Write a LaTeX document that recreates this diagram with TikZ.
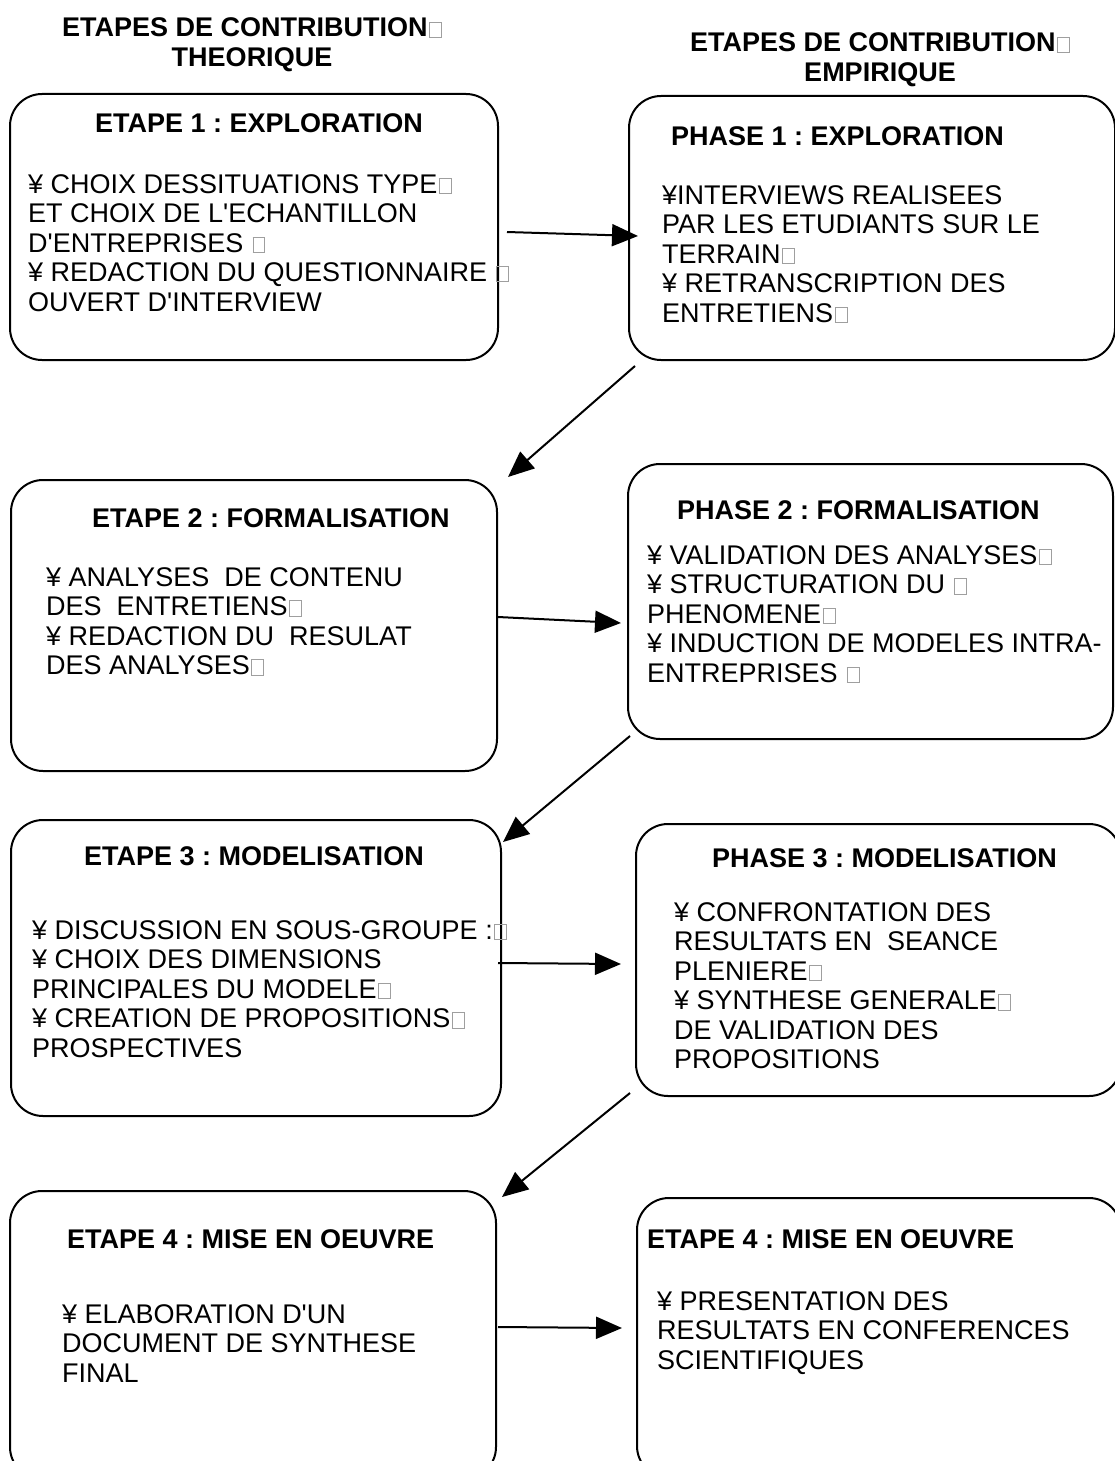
\documentclass[tikz,border=0pt]{standalone}
\usepackage{fontspec}
\setmainfont{Liberation Sans}[Ligatures=TeXOff]
\usetikzlibrary{arrows.meta}
\frenchspacing
\newcommand\nog{\hspace{0.06em}\textcolor{gray!75}{\setlength\fboxrule{1pt}\setlength\fboxsep{0pt}\fbox{\rule{0pt}{0.52em}\hspace{0.4em}}}}
\newcommand\lns[1]{\begin{tabular}[t]{@{}l@{}}#1\end{tabular}}
\newcommand\clns[1]{\begin{tabular}[t]{@{}c@{}}#1\end{tabular}}
\begin{document}
\begin{tikzpicture}[x=1pt,y=-1pt,
  stepbox/.style={draw, line width=2pt, rounded corners=32pt, inner sep=0pt, anchor=north west},
  ttl/.style={font=\bfseries\fontsize{27}{30}\selectfont, anchor=base west, inner sep=0pt},
  bodytxt/.style={font=\fontsize{27}{29.5}\selectfont, anchor=base west, inner sep=0pt},
  hdr/.style={font=\bfseries\fontsize{27}{30}\selectfont, anchor=base, inner sep=0pt},
  arr/.style={line width=2pt, -{Triangle[length=26pt,width=22pt]}}]
\useasboundingbox (0,0) rectangle (1115,1461);
\clip (0,0) rectangle (1115,1461);
\fill[white] (0,0) rectangle (1115,1461);

% headers
\node[hdr] (h1) at (252,37) {\clns{ETAPES DE CONTRIBUTION\nog\\THEORIQUE\hspace{18pt}}};
\node[hdr] (h2) at (880,52) {\clns{ETAPES DE CONTRIBUTION\nog\\EMPIRIQUE\hspace{16pt}}};

% boxes
\node[stepbox, minimum width=488pt, minimum height=266pt] (b1) at (9,93) {};
\node[stepbox, minimum width=486pt, minimum height=264pt] (b2) at (628,95) {};
\node[stepbox, minimum width=486pt, minimum height=291pt] (b3) at (10,479) {};
\node[stepbox, minimum width=485pt, minimum height=275pt] (b4) at (627,463) {};
\node[stepbox, minimum width=490pt, minimum height=296pt] (b5) at (10,819) {};
\node[stepbox, minimum width=485pt, minimum height=272pt] (b6) at (635,823) {};
\node[stepbox, minimum width=486pt, minimum height=288pt] (b7) at (9,1190) {};
\node[stepbox, minimum width=484pt, minimum height=280pt] (b8) at (636,1197) {};

% box 1
\node[ttl] (t1) at (95,132) {ETAPE 1 : EXPLORATION};
\node[bodytxt] (c1) at (28,193) {\lns{\textyen{} CHOIX DESSITUATIONS TYPE\nog\\ET CHOIX DE L'ECHANTILLON\\D'ENTREPRISES \nog\\\textyen{} REDACTION DU QUESTIONNAIRE \nog\\OUVERT D'INTERVIEW}};
% box 2
\node[ttl] (t2) at (671,146) {PHASE 1 : EXPLORATION};
\node[bodytxt] (c2) at (662,204) {\lns{\textyen INTERVIEWS REALISEES\\PAR LES ETUDIANTS SUR LE\\TERRAIN\nog\\\textyen{} RETRANSCRIPTION DES\\ENTRETIENS\nog}};
% box 3
\node[ttl] (t3) at (92,527) {ETAPE 2 : FORMALISATION};
\node[bodytxt] (c3) at (46,586) {\lns{\textyen{} ANALYSES\ \ DE CONTENU\\DES\ \ ENTRETIENS\nog\\\textyen{} REDACTION DU\ \ RESULAT\\DES ANALYSES\nog}};
% box 4
\node[ttl] (t4) at (677,519) {PHASE 2 : FORMALISATION};
\node[bodytxt] (c4) at (647,564) {\lns{\textyen{} VALIDATION DES ANALYSES\nog\\\textyen{} STRUCTURATION DU \nog\\PHENOMENE\nog\\\textyen{} INDUCTION DE MODELES INTRA-\\ENTREPRISES \nog}};
% box 5
\node[ttl] (t5) at (84,865) {ETAPE 3 : MODELISATION};
\node[bodytxt] (c5) at (32,939) {\lns{\textyen{} DISCUSSION EN SOUS-GROUPE :\nog\\\textyen{} CHOIX DES DIMENSIONS\\PRINCIPALES DU MODELE\nog\\\textyen{} CREATION DE PROPOSITIONS\nog\\PROSPECTIVES}};
% box 6
\node[ttl] (t6) at (712,867) {PHASE 3 : MODELISATION};
\node[bodytxt] (c6) at (674,921) {\lns{\textyen{} CONFRONTATION DES\\RESULTATS EN\ \ SEANCE\\PLENIERE\nog\\\textyen{} SYNTHESE GENERALE\nog\\DE VALIDATION DES\\PROPOSITIONS}};
% box 7
\node[ttl] (t7) at (67,1248) {ETAPE 4 : MISE EN OEUVRE};
\node[bodytxt] (c7) at (62,1323) {\lns{\textyen{} ELABORATION D'UN\\DOCUMENT DE SYNTHESE\\FINAL}};
% box 8
\node[ttl] (t8) at (647,1248) {ETAPE 4 : MISE EN OEUVRE};
\node[bodytxt] (c8) at (657,1310) {\lns{\textyen{} PRESENTATION DES\\RESULTATS EN CONFERENCES\\SCIENTIFIQUES}};

% connector end points
\coordinate (a1s) at (507,232); \coordinate (a1e) at (638,236);
\coordinate (d1s) at (635,366); \coordinate (d1e) at (508,477);
\coordinate (a2s) at (498,617); \coordinate (a2e) at (621,623);
\coordinate (d2s) at (630,736); \coordinate (d2e) at (503,842);
\coordinate (a3s) at (498,963); \coordinate (a3e) at (621,964);
\coordinate (d3s) at (630,1093); \coordinate (d3e) at (502,1197);
\coordinate (a4s) at (498,1327); \coordinate (a4e) at (622,1328);

\draw[arr] (a1s) -- (a1e);
\draw[arr] (d1s) -- (d1e);
\draw[arr] (a2s) -- (a2e);
\draw[arr] (d2s) -- (d2e);
\draw[arr] (a3s) -- (a3e);
\draw[arr] (d3s) -- (d3e);
\draw[arr] (a4s) -- (a4e);
\end{tikzpicture}
\end{document}
